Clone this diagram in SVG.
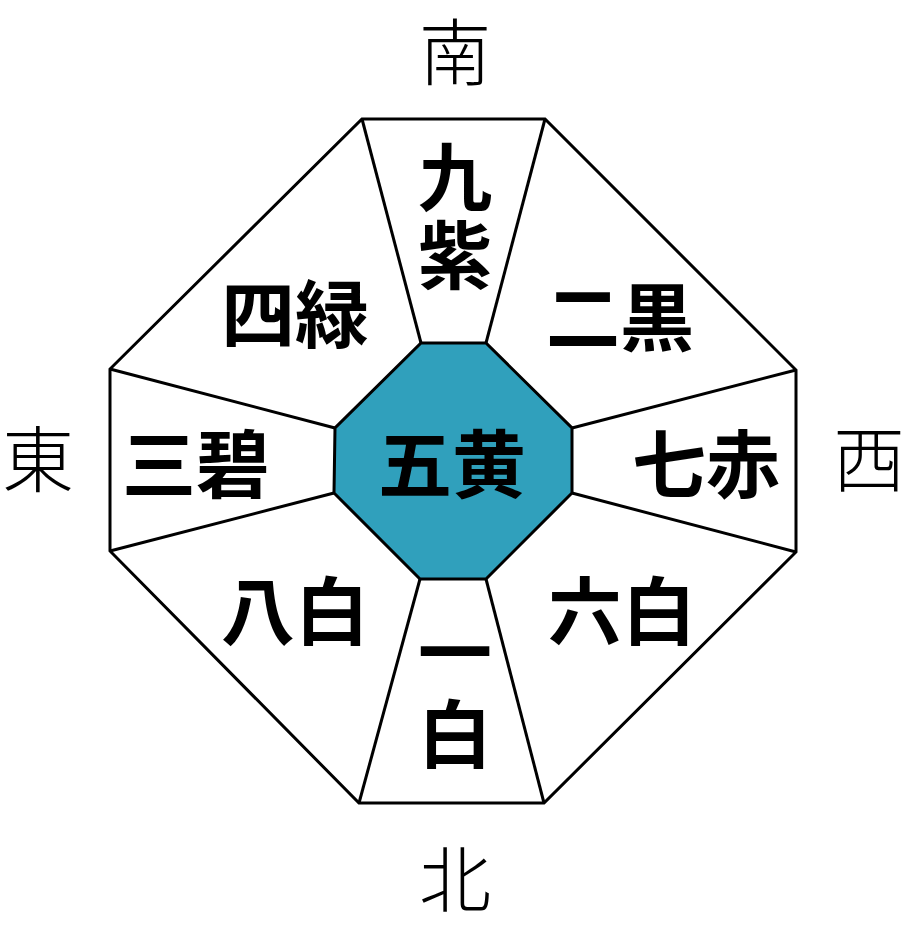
<svg xmlns="http://www.w3.org/2000/svg" width="906" height="933" viewBox="0 0 906 933">
<style>
.ln{stroke:#000;stroke-width:3;fill:none;stroke-linejoin:miter}
.cell{font-family:"Noto Sans CJK JP","Noto Sans CJK SC",sans-serif;font-weight:bold;font-size:74px;fill:#000;text-anchor:middle}
.dir{font-family:"Noto Sans CJK JP","Noto Sans CJK SC",sans-serif;font-weight:300;font-size:72px;fill:#000;text-anchor:middle}
</style>
<rect width="906" height="933" fill="#fff"/>
<g id="frame">
<polygon class="ln" fill="#fff" points="362,119 545,119 796,370 796,552 544,803 359,803 110,551 110,369"/>
</g>
<g id="connectors">
<line class="ln" x1="362" y1="119" x2="421" y2="343"/>
<line class="ln" x1="545" y1="119" x2="486" y2="343"/>
<line class="ln" x1="796" y1="370" x2="572" y2="428"/>
<line class="ln" x1="796" y1="552" x2="572" y2="493"/>
<line class="ln" x1="544" y1="803" x2="486" y2="579"/>
<line class="ln" x1="359" y1="803" x2="420" y2="579"/>
<line class="ln" x1="110" y1="551" x2="334" y2="493"/>
<line class="ln" x1="110" y1="369" x2="335" y2="428"/>
</g>
<g id="center">
<polygon points="421,343 486,343 572,428 572,493 486,579 420,579 334,493 335,428" fill="#30A0BC" stroke="#000" stroke-width="3"/>
<text class="cell" x="452" y="492">五黄</text>
</g>
<g id="n9"><text class="cell" x="455" y="205">九</text><text class="cell" x="455" y="283">紫</text></g>
<g id="n2"><text class="cell" x="620" y="345">二黒</text></g>
<g id="n4"><text class="cell" x="295" y="342">四緑</text></g>
<g id="n3"><text class="cell" x="196" y="492">三碧</text></g>
<g id="n7"><text class="cell" x="706" y="492">七赤</text></g>
<g id="n8"><text class="cell" x="295" y="639">八白</text></g>
<g id="n6"><text class="cell" x="622" y="639">六白</text></g>
<g id="n1"><text class="cell" x="455" y="680">一</text><text class="cell" x="455" y="762">白</text></g>
<g id="south"><text class="dir" x="455" y="79">南</text></g>
<g id="north"><text class="dir" x="455" y="906">北</text></g>
<g id="east"><text class="dir" x="38" y="486">東</text></g>
<g id="west"><text class="dir" x="869" y="486">西</text></g>
</svg>
